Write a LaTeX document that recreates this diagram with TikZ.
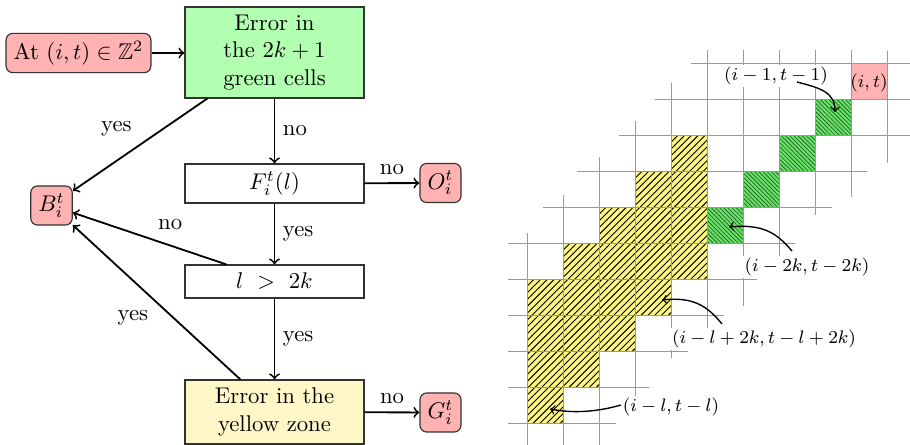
\documentclass[tikz,border=0pt]{standalone}
\usepackage{amssymb}
\usetikzlibrary{patterns,patterns.meta,calc}
\definecolor{yellowbox}{RGB}{255,247,200}
\definecolor{cellgreen}{RGB}{110,225,110}
\definecolor{hatchgreen}{RGB}{30,110,30}
\begin{document}
\begin{tikzpicture}[x=0.44pt,y=-0.44pt,
  box/.style={draw=black!80, line width=0.5pt, minimum width=78.8pt, align=center, inner sep=2pt},
  term/.style={draw=black!80, fill=red!30, rounded corners=3pt, line width=0.5pt},
  arr/.style={->, thick},
  sarr/.style={->, semithick},
  gridl/.style={draw=gray!80, line width=0.4pt},
  lbl/.style={font=\fontsize{7.6}{9}\selectfont, inner sep=1pt}]
\useasboundingbox (0,0) rectangle (910,445);

% ---------------- flowchart ----------------
\node[term] (S) at (78.5,53) {At $(i,t)\in\mathbb{Z}^2$};
\node[box, fill=green!30, minimum height=40pt] (A) at (274.5,52.5) {Error in\\the $2k+1$\\green cells};
\node[box, minimum height=17.2pt] (F) at (274.5,183.5) {$F_i^t(l)$};
\node[box, minimum height=14.5pt] (L) at (274.5,281.5) {$l\ >\ 2k$};
\node[box, fill=yellowbox, minimum height=28.2pt] (Y) at (274.5,412) {Error in the\\yellow zone};
\node[term] (B) at (51.5,205.5) {$B_i^t$};
\node[term] (O) at (440.5,183) {$O_i^t$};
\node[term] (G) at (440.5,412.5) {$G_i^t$};

\draw[arr] (S.east) -- (S.east -| A.west);
\draw[arr] ([xshift=10.1pt]A.south west) -- node[above left]{yes} (B);
\draw[arr] (A) -- node[right]{no} (F);
\draw[arr] (F) -- node[above]{no} (O);
\draw[arr] (F) -- node[right]{yes} (L);
\draw[arr] ([xshift=18.5pt]L.north west) -- node[above right]{no} (B);
\draw[arr] (L) -- node[right]{yes} (Y);
\draw[arr] ([xshift=24.6pt]Y.north west) -- node[below left]{yes} (B);
\draw[arr] (Y) -- node[above]{no} (G);

% ---------------- grid ----------------
\fill[red!30] (851,63) rectangle (887,99);
\path[fill=yellow!50, postaction={pattern=north east lines}]
  (527,423) -- (527,279) -- (563,279) -- (563,243) -- (599,243) -- (599,207)
  -- (635,207) -- (635,171) -- (671,171) -- (671,135) -- (707,135)
  -- (707,279) -- (671,279) -- (671,315) -- (635,315) -- (635,351)
  -- (599,351) -- (599,387) -- (563,387) -- (563,423) -- cycle;
\foreach \c/\r in {3/1,2/2,1/3,0/4}
  \path[fill=cellgreen, postaction={pattern={Lines[angle=-45,distance=1.3pt,line width=0.35pt]}, pattern color=hatchgreen}]
    ({707+36*\c},{63+36*\r}) rectangle ++(36,36);

\foreach \j/\a/\b in {0/691/910, 1/655/910, 2/619/910, 3/577/867, 4/543/832, 5/508/795, 6/508/757, 7/508/724, 8/508/688, 9/508/649, 10/508/616}
  \draw[gridl] (\a,{63+36*\j}) -- (\b,{63+36*\j});
\foreach \c/\a/\b in {5/51/163, 4/50/197, 3/50/215, 2/50/270, 1/50/306, 0/50/340, -1/83/358, -2/121/400, -3/157/445, -4/195/445, -5/233/445}
  \draw[gridl] ({707+36*\c},\a) -- ({707+36*\c},\b);

% ---------------- labels ----------------
\node[lbl] (P) at (869,83) {$(i,t)$};
\node[lbl, fill=white] (L1) at (776,76) {$(i-1,t-1)$};
\node[lbl, fill=white] (L2) at (807,267) {$(i-2k,t-2k)$};
\node[lbl, fill=white] (L3) at (764,339) {$(i-l+2k,t-l+2k)$};
\node[lbl, fill=white] (L4) at (671,407) {$(i-l,t-l)$};

\coordinate (s1) at (797,82);   \coordinate (e1) at (835,112);
\coordinate (s2) at (792,251);  \coordinate (e2) at (729,227);
\coordinate (s3) at (722,324);  \coordinate (e3) at (662,300);
\coordinate (s4) at (621,405);  \coordinate (e4) at (550,409);
\draw[sarr] (s1) .. controls (820,88) and (835,92) .. (e1);
\draw[sarr] (s2) .. controls (776,232) and (762,224) .. (e2);
\draw[sarr] (s3) .. controls (706,304) and (691,297) .. (e3);
\draw[sarr] (s4) .. controls (600,411) and (576,414) .. (e4);
\end{tikzpicture}
\end{document}
